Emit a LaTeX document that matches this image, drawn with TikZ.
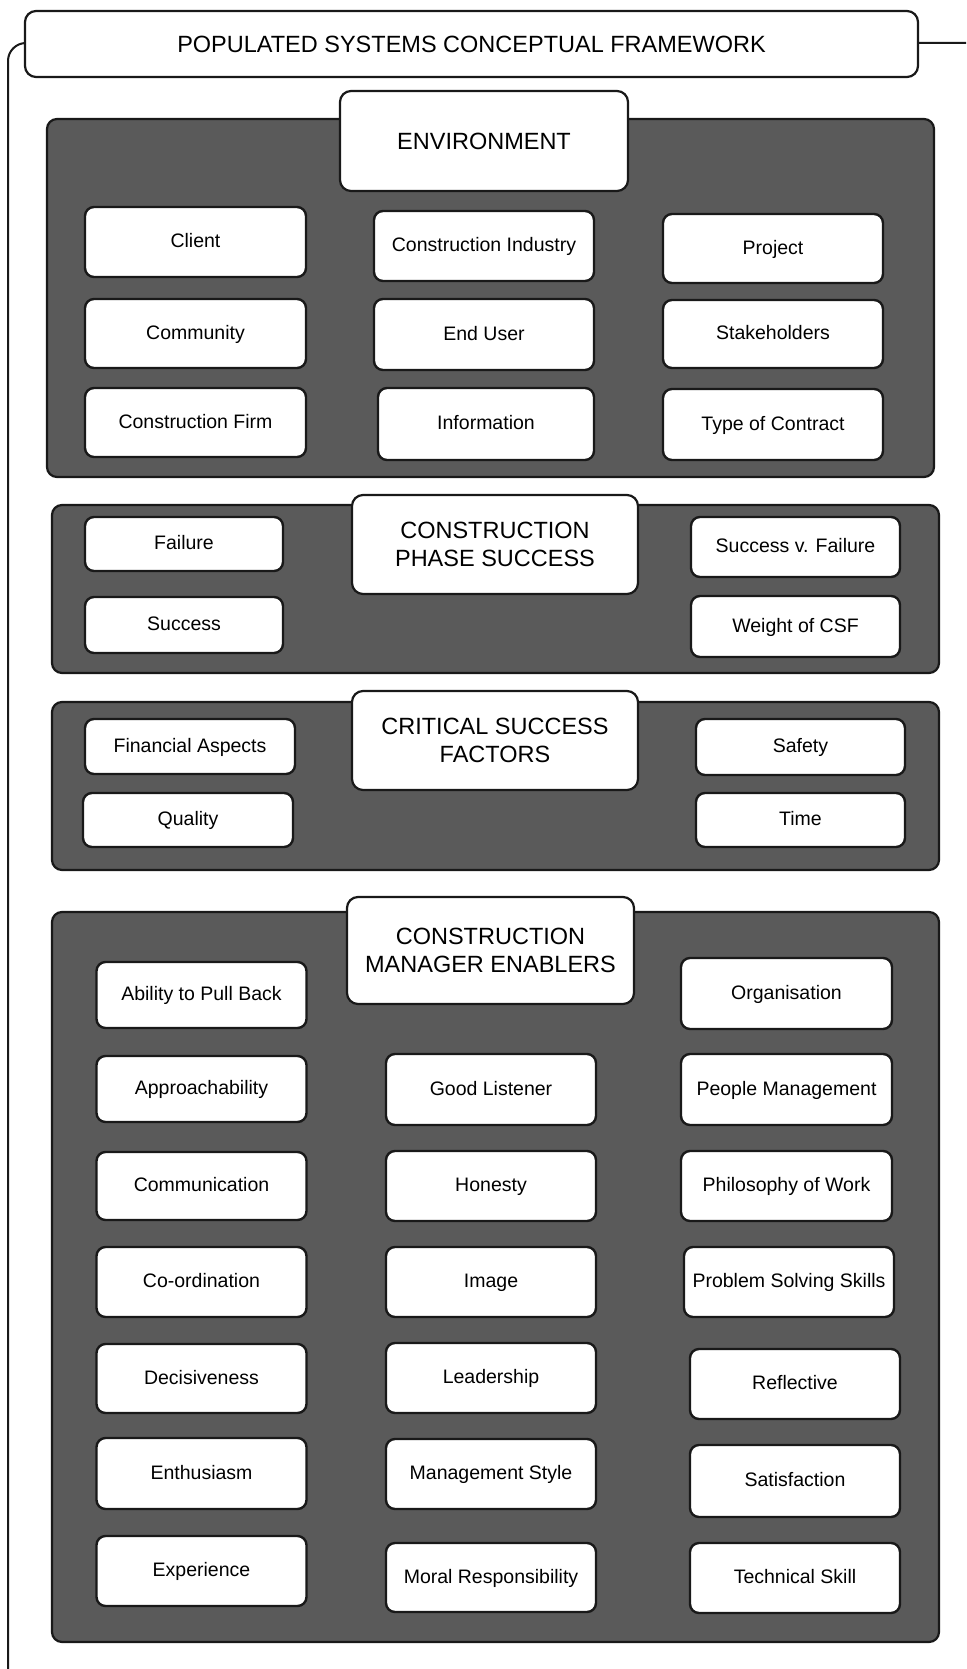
\documentclass[tikz,border=0pt]{standalone}
\usepackage{fontspec}
\setmainfont{Liberation Sans}
\begin{document}
\definecolor{panelgray}{RGB}{90,90,90}
\definecolor{inkline}{RGB}{25,25,25}
\begin{tikzpicture}[x=1pt,y=-1pt,
  frameline/.style={draw=inkline,line width=2pt,rounded corners=18pt},
  panel/.style={draw=inkline,fill=panelgray,line width=2.2pt,rounded corners=10pt},
  headbox/.style={draw=inkline,fill=white,line width=2.2pt,rounded corners=11pt,
    inner sep=0pt,outer sep=0pt,align=center,
    font=\fontsize{23.5}{27.5}\selectfont},
  itembox/.style={draw=inkline,fill=white,line width=2.4pt,rounded corners=9pt,
    inner sep=0pt,outer sep=0pt,align=center,minimum width=210pt,
    text height=14pt,text depth=2.5pt,
    font=\fontsize{19.5}{23}\selectfont},
]
\useasboundingbox (0,0) rectangle (966,1669);
\fill[white] (0,0) rectangle (966,1669);

% outer bracket of the whole framework
\begin{scope}
  \clip (0,0) rectangle (966,1669);
  \draw[frameline] (8,43) rectangle (1000,1720);
\end{scope}

% title bar
\node[headbox,minimum width=893pt,minimum height=66pt] (title) at (471.5,44)
  {POPULATED SYSTEMS CONCEPTUAL FRAMEWORK};

% ---------------- Environment ----------------
\draw[panel] (47,119) rectangle (934,477);
\node[headbox,minimum width=288pt,minimum height=100pt] (env) at (484,141) {ENVIRONMENT};
\node[itembox,minimum width=221pt,minimum height=70pt] (client) at (195.5,242) {Client};
\node[itembox,minimum width=220pt,minimum height=70pt] (industry) at (484,246) {Construction Industry};
\node[itembox,minimum width=220pt,minimum height=69pt] (project) at (773,248.5) {Project};
\node[itembox,minimum width=221pt,minimum height=69pt] (community) at (195.5,333.5) {Community};
\node[itembox,minimum width=220pt,minimum height=71pt] (enduser) at (484,334.5) {End User};
\node[itembox,minimum width=220pt,minimum height=68pt] (stake) at (773,334) {Stakeholders};
\node[itembox,minimum width=221pt,minimum height=69pt] (firm) at (195.5,422.5) {Construction Firm};
\node[itembox,minimum width=216pt,minimum height=72pt] (info) at (486,424) {Information};
\node[itembox,minimum width=220pt,minimum height=71pt] (contract) at (773,424.5) {Type of Contract};

% ---------------- Construction phase success ----------------
\draw[panel] (52,505) rectangle (939,673);
\node[headbox,minimum width=286pt,minimum height=99pt] (cps) at (495,544.5)
  {CONSTRUCTION\\PHASE SUCCESS};
\node[itembox,minimum width=198pt,minimum height=54pt] (failure) at (184,544) {Failure};
\node[itembox,minimum width=198pt,minimum height=56pt] (success) at (184,625) {Success};
\node[itembox,minimum width=209pt,minimum height=60pt] (svf) at (795.5,547) {Success v. Failure};
\node[itembox,minimum width=209pt,minimum height=61pt] (weight) at (795.5,626.5) {Weight of CSF};

% ---------------- Critical success factors ----------------
\draw[panel] (52,702) rectangle (939,870);
\node[headbox,minimum width=286pt,minimum height=99pt] (csf) at (495,740.5)
  {CRITICAL SUCCESS\\FACTORS};
\node[itembox,minimum width=210pt,minimum height=55pt] (financial) at (190,746.5) {Financial Aspects};
\node[itembox,minimum width=210pt,minimum height=54pt] (quality) at (188,820) {Quality};
\node[itembox,minimum width=209pt,minimum height=56pt] (safety) at (800.5,747) {Safety};
\node[itembox,minimum width=209pt,minimum height=54pt] (time) at (800.5,820) {Time};

% ---------------- Construction manager enablers ----------------
\draw[panel] (52,912) rectangle (939,1642);
\node[headbox,minimum width=287pt,minimum height=107pt] (cme) at (490.5,950.5)
  {CONSTRUCTION\\MANAGER ENABLERS};

% first column
\node[itembox,minimum height=66pt] (pullback) at (201.5,995) {Ability to Pull Back};
\node[itembox,minimum height=66pt] (approach) at (201.5,1089) {Approachability};
\node[itembox,minimum height=68pt] (comm) at (201.5,1186) {Communication};
\node[itembox,minimum height=70pt] (coord) at (201.5,1282) {Co-ordination};
\node[itembox,minimum height=69pt] (decisive) at (201.5,1378.5) {Decisiveness};
\node[itembox,minimum height=71pt] (enthus) at (201.5,1473.5) {Enthusiasm};
\node[itembox,minimum height=70pt] (experience) at (201.5,1571) {Experience};

% second column
\node[itembox,minimum height=71pt] (listener) at (491,1089.5) {Good Listener};
\node[itembox,minimum height=70pt] (honesty) at (491,1186) {Honesty};
\node[itembox,minimum height=70pt] (image) at (491,1282) {Image};
\node[itembox,minimum height=70pt] (leader) at (491,1378) {Leadership};
\node[itembox,minimum height=70pt] (mstyle) at (491,1474) {Management Style};
\node[itembox,minimum height=69pt] (moral) at (491,1577.5) {Moral Responsibility};

% third column
\node[itembox,minimum width=211pt,minimum height=71pt] (organis) at (786.5,993.5) {Organisation};
\node[itembox,minimum width=211pt,minimum height=71pt] (people) at (786.5,1089.5) {People Management};
\node[itembox,minimum width=211pt,minimum height=70pt] (philo) at (786.5,1186) {Philosophy of Work};
\node[itembox,minimum height=70pt] (problem) at (789,1282) {Problem Solving Skills};
\node[itembox,minimum height=70pt] (reflect) at (795,1384) {Reflective};
\node[itembox,minimum height=72pt] (satisf) at (795,1481) {Satisfaction};
\node[itembox,minimum height=70pt] (technical) at (795,1578) {Technical Skill};

% right-hand tail of the title bar
\coordinate (tailend) at (966,43);
\draw[draw=inkline,line width=2pt] (title.east |- tailend) -- (tailend);
\end{tikzpicture}
\end{document}
